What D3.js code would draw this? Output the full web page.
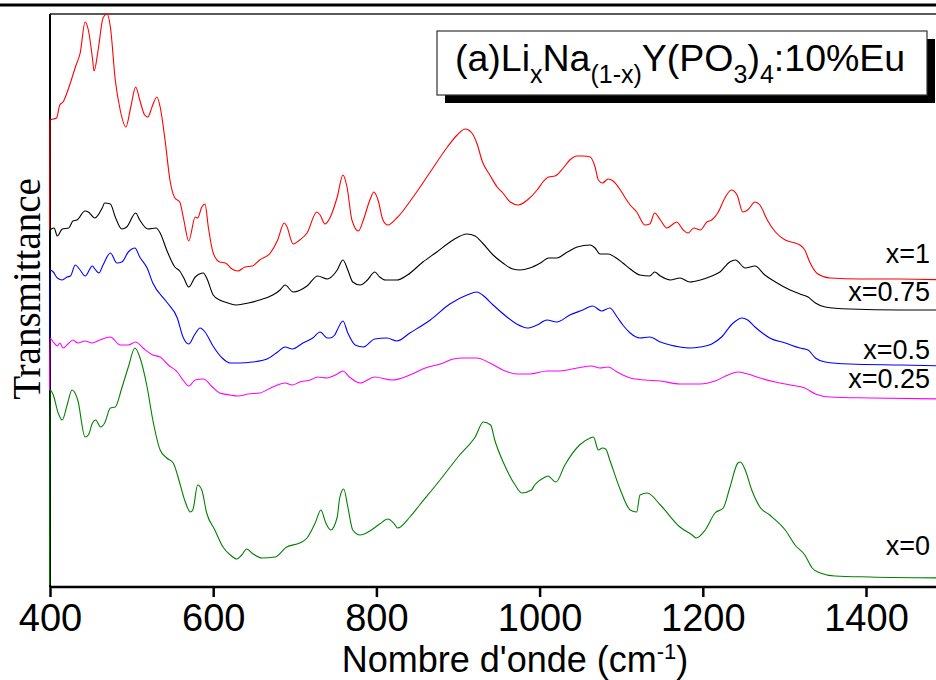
<!DOCTYPE html>
<html><head><meta charset="utf-8">
<script src="https://cdn.jsdelivr.net/npm/d3@7"></script>
<style>html,body{margin:0;padding:0;background:#fff;}svg{display:block;}</style>
</head><body>
<svg id="chart" width="936" height="680"></svg>
<script>
// Wavenumber (cm-1) and transmittance (arbitrary units, vertically offset spectra)
const xTicks = [400, 600, 800, 1000, 1200, 1400];
const seriesNames = ["x=1", "x=0.75", "x=0.5", "x=0.25", "x=0"];
const seriesColors = ["#ff0000", "#000000", "#0000ff", "#ff00ff", "#008000"];

const spec_x1 = [[399.5,357],[400,467],[408,469],[412,482],[416,485],[422,497],[432,522],[437,534],[443,565],[447,557],[452,529],[454,516],[459,537],[465,569],[470,573],[474,560],[480,507],[486,477],[493,460],[499,480],[505,500],[510,487],[516,472],[520,470],[525,480],[531,490],[535,480],[541,447],[547,407],[553,389],[559,385],[564,367],[570,346],[578,370],[581,369],[586,380],[590,383],[594,360],[600,334],[608,325],[615,324],[623,318],[630,316],[639,320],[648,321],[657,327],[670,334],[679,347],[687,364],[690,361],[698,343],[706,347],[715,354],[727,375],[731,372],[737,363],[743,369],[752,390],[759,412],[764,400],[770,367],[778,356],[784,367],[792,387],[797,395],[802,387],[808,367],[814,362],[825,369],[845,390],[866,415],[887,440],[899,452],[909,458],[917,454],[923,444],[930,425],[939,412],[948,400],[955,394],[964,385],[974,382],[985,387],[997,397],[1004,405],[1011,410],[1019,411],[1029,419],[1037,427],[1046,431],[1053,431],[1062,430],[1068,420],[1072,407],[1077,404],[1084,408],[1090,406],[1099,397],[1105,389],[1111,382],[1119,375],[1129,362],[1135,363],[1141,374],[1148,367],[1156,359],[1162,362],[1168,365],[1176,357],[1182,354],[1189,359],[1197,357],[1205,365],[1211,367],[1219,375],[1227,389],[1235,397],[1242,392],[1249,375],[1255,377],[1264,385],[1270,382],[1279,367],[1289,355],[1301,347],[1313,344],[1319,342],[1325,337],[1331,325],[1341,313],[1356,309],[1393,308],[1442,308],[1500,307]];

const spec_x075 = [[399.5,317],[400,357],[405,359],[409,351],[415,358],[423,359],[428,366],[433,367],[443,376],[447,375],[455,369],[464,379],[467,384],[474,383],[480,370],[488,358],[494,360],[505,374],[510,367],[520,358],[530,359],[535,354],[543,337],[553,320],[559,316],[564,309],[570,300],[578,310],[588,314],[592,309],[600,292],[608,287],[618,284],[629,282],[643,284],[657,287],[673,292],[682,297],[688,302],[698,295],[715,301],[728,311],[740,308],[743,309],[752,317],[759,327],[765,317],[771,305],[780,302],[789,307],[798,315],[804,310],[811,307],[825,307],[838,312],[857,325],[874,335],[894,347],[911,353],[921,351],[930,344],[943,332],[955,324],[967,318],[976,317],[988,319],[1001,324],[1011,329],[1021,329],[1034,335],[1046,340],[1062,342],[1068,339],[1074,333],[1084,333],[1092,330],[1102,324],[1111,318],[1123,312],[1135,311],[1141,315],[1148,311],[1160,307],[1172,309],[1184,305],[1197,307],[1211,311],[1221,315],[1233,325],[1240,327],[1252,319],[1264,321],[1276,312],[1289,305],[1307,297],[1319,293],[1329,290],[1338,284],[1350,280],[1380,278],[1442,277],[1500,277]];

const spec_x05 = [[399.5,249],[400,317],[404,315],[409,309],[415,307],[421,310],[425,311],[431,322],[436,318],[443,311],[452,321],[455,318],[460,314],[465,322],[474,334],[482,324],[488,325],[496,335],[504,339],[510,330],[519,319],[526,304],[543,285],[556,269],[563,250],[570,243],[577,252],[584,259],[590,255],[599,242],[611,229],[621,224],[633,224],[648,225],[666,228],[679,235],[688,240],[697,238],[710,244],[722,249],[731,255],[740,249],[743,249],[749,252],[752,257],[759,266],[765,254],[774,242],[784,240],[798,248],[813,249],[825,246],[841,254],[866,267],[890,283],[911,292],[923,295],[930,292],[943,282],[960,270],[972,263],[985,259],[997,262],[1009,267],[1021,265],[1037,272],[1053,277],[1065,281],[1076,276],[1086,279],[1095,270],[1102,262],[1111,254],[1123,249],[1135,250],[1148,245],[1160,242],[1172,240],[1184,239],[1197,240],[1211,243],[1223,250],[1236,263],[1248,269],[1255,267],[1264,260],[1273,254],[1282,249],[1301,244],[1319,239],[1329,237],[1338,229],[1350,225],[1380,223],[1442,222],[1500,221]];

const spec_x025 = [[399.5,197],[400,249],[404,245],[409,241],[412,244],[416,239],[422,243],[428,247],[434,244],[443,246],[452,244],[461,247],[474,250],[486,242],[496,242],[505,245],[514,239],[526,232],[535,230],[545,222],[556,215],[563,207],[570,201],[578,207],[588,208],[599,200],[608,194],[621,192],[630,191],[643,193],[657,194],[673,200],[688,204],[697,202],[706,205],[719,207],[728,210],[740,209],[747,211],[752,213],[759,216],[767,210],[780,204],[798,210],[819,207],[841,212],[860,219],[882,224],[894,228],[906,229],[923,229],[939,224],[955,217],[972,213],[988,213],[1009,216],[1025,216],[1046,219],[1064,221],[1074,219],[1084,220],[1095,215],[1111,209],[1129,207],[1148,206],[1172,203],[1197,203],[1215,206],[1231,212],[1243,215],[1255,213],[1270,209],[1289,205],[1307,202],[1325,199],[1338,193],[1356,190],[1405,189],[1500,188]];

const spec_x0 = [[399.5,2],[400,197],[404,192],[410,174],[415,167],[421,182],[427,197],[434,187],[443,150],[447,152],[452,164],[456,167],[462,160],[467,164],[474,179],[480,180],[488,199],[496,220],[504,239],[510,230],[519,200],[526,167],[535,137],[543,129],[551,124],[559,104],[565,87],[572,75],[575,77],[581,102],[586,97],[592,74],[602,57],[612,40],[621,32],[629,28],[635,32],[641,38],[649,33],[660,29],[676,30],[690,40],[706,44],[715,49],[725,64],[732,77],[738,64],[744,57],[752,70],[755,89],[760,98],[765,80],[771,57],[780,52],[792,56],[804,63],[814,68],[822,63],[826,59],[841,70],[853,82],[878,107],[902,132],[921,150],[931,165],[940,162],[945,147],[957,122],[970,102],[978,94],[990,97],[994,102],[1007,110],[1010,111],[1020,105],[1031,122],[1049,142],[1062,149],[1066,150],[1072,137],[1077,139],[1081,138],[1086,127],[1099,97],[1111,77],[1119,75],[1123,92],[1132,94],[1148,82],[1172,60],[1187,52],[1192,49],[1203,57],[1215,74],[1225,79],[1233,99],[1243,124],[1246,125],[1252,117],[1260,97],[1270,80],[1282,72],[1301,57],[1313,42],[1325,32],[1334,19],[1344,14],[1362,11],[1405,10],[1500,9]];

const allSpectra = [spec_x1, spec_x075, spec_x05, spec_x025, spec_x0];

const svg = d3.select("#chart");
const W = 936, H = 680;
const plotLeft = 50, plotTop = 14, plotBottom = 587;

const x = d3.scaleLinear().domain([400, 1500]).range([plotLeft, plotLeft + 1100 * 0.816]);
const y = d3.scaleLinear().domain([0, 573]).range([plotBottom, plotTop]);

// thick line at very top
svg.append("line").attr("x1", 0).attr("x2", W).attr("y1", 5).attr("y2", 5)
  .attr("stroke", "#000").attr("stroke-width", 3);

// frame top
svg.append("line").attr("x1", plotLeft).attr("x2", W).attr("y1", plotTop).attr("y2", plotTop)
  .attr("stroke", "#222").attr("stroke-width", 1.5);

const line = d3.line().x(d => x(d[0])).y(d => y(d[1])).curve(d3.curveMonotoneX);

// left axis line
svg.append("line").attr("x1", plotLeft).attr("x2", plotLeft).attr("y1", plotTop).attr("y2", plotBottom)
  .attr("stroke", "#000").attr("stroke-width", 2);

const g = svg.append("g");
allSpectra.forEach((s, i) => {
  g.append("path").datum(s).attr("d", line)
    .attr("fill", "none").attr("stroke", seriesColors[i]).attr("stroke-width", 1.1)
    .attr("stroke-linejoin", "round");
});

// bottom axis
const xAxis = d3.axisBottom(x).tickValues(xTicks).tickSize(10).tickPadding(7).tickFormat(d3.format("d"));
const ax = svg.append("g").attr("transform", `translate(0,${plotBottom})`).call(xAxis);
ax.select(".domain").attr("stroke", "#000").attr("stroke-width", 2.5).attr("d", `M${plotLeft},0H${W}`);
ax.selectAll(".tick line").attr("stroke", "#000").attr("stroke-width", 2.5);
ax.selectAll(".tick text").attr("font-family", "Liberation Sans, Arial, sans-serif")
  .attr("font-size", 38).attr("fill", "#000");

// axis titles
const xt = svg.append("text").attr("x", 515).attr("y", 672).attr("text-anchor", "middle")
  .attr("font-family", "Liberation Sans, Arial, sans-serif").attr("font-size", 36).attr("fill", "#000");
xt.append("tspan").text("Nombre d'onde (cm");
xt.append("tspan").attr("font-size", 22).attr("dy", -13).text("-1");
xt.append("tspan").attr("dy", 13).text(")");

svg.append("text").attr("transform", "translate(40,289) rotate(-90)").attr("text-anchor", "middle")
  .attr("font-family", "Liberation Serif, 'Times New Roman', serif").attr("font-size", 39)
  .attr("fill", "#000").text("Transmittance");

// series labels
const labelDy = [-17, -9, -7, -11, -23];
seriesNames.forEach((n, i) => {
  const s = allSpectra[i];
  const last = s[s.length - 1];
  svg.append("text").attr("x", 930).attr("y", y(last[1]) + labelDy[i])
    .attr("text-anchor", "end").attr("font-family", "Liberation Sans, Arial, sans-serif")
    .attr("font-size", 27).attr("fill", "#000").text(n);
});

// title box with shadow
svg.append("rect").attr("x", 445).attr("y", 39).attr("width", 490).attr("height", 64).attr("fill", "#000");
svg.append("rect").attr("x", 437).attr("y", 31).attr("width", 490).attr("height", 64)
  .attr("fill", "#fff").attr("stroke", "#333").attr("stroke-width", 1.2);
const tt = svg.append("text").attr("x", 455).attr("y", 71)
  .attr("font-family", "Liberation Sans, Arial, sans-serif").attr("font-size", 37.5).attr("fill", "#000");
const parts = [["(a)Li", 0], ["x", 1], ["Na", 0], ["(1-x)", 1], ["Y(PO", 0], ["3", 1], [")", 0], ["4", 1], [":10%Eu", 0]];
let prevSub = 0;
parts.forEach(([t, sub]) => {
  const dy = (sub - prevSub) * 12;
  tt.append("tspan").attr("dy", dy).attr("font-size", sub ? 25 : 37.5).text(t);
  prevSub = sub;
});
</script>
</body></html>
